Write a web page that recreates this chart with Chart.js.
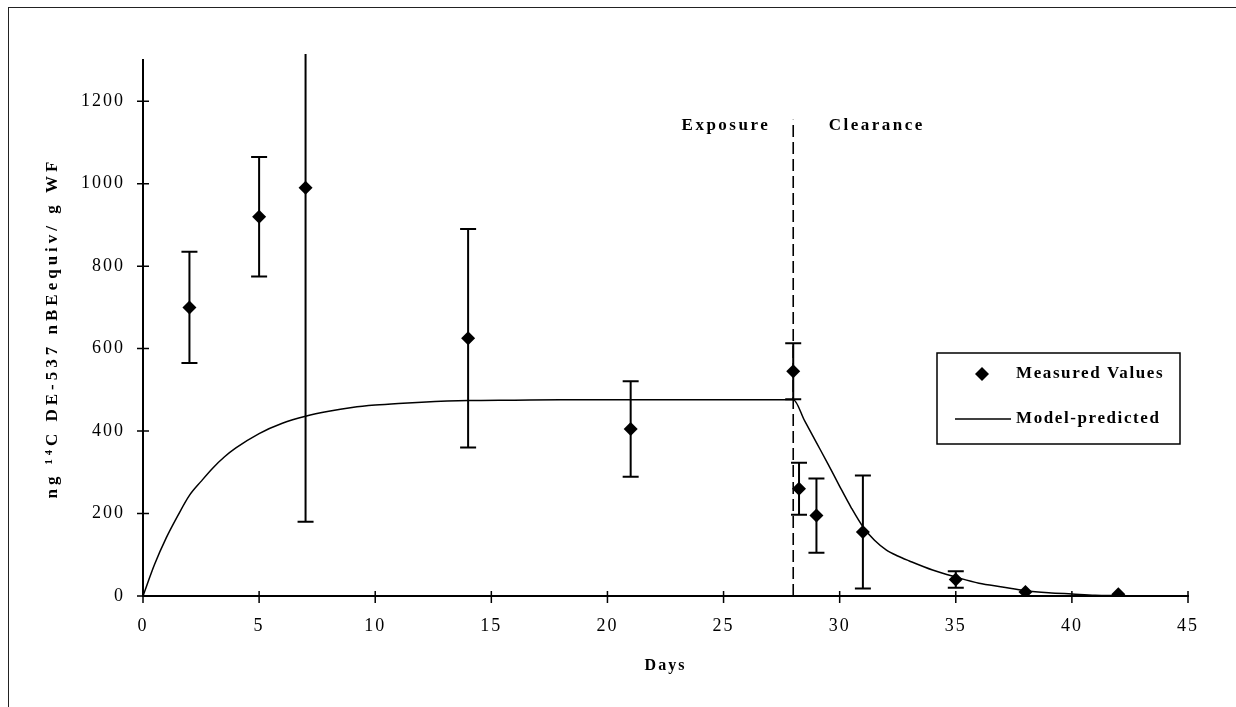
<!DOCTYPE html>
<html>
<head>
<meta charset="utf-8">
<script src="https://cdn.jsdelivr.net/npm/chart.js@4.4.1/dist/chart.umd.min.js"></script>
<style>
  html, body { margin: 0; padding: 0; background: #fff; }
  #wrap { position: relative; width: 1236px; height: 707px; overflow: hidden; }
  #wrap canvas { position: absolute; left: 0; top: 0; }
  #frame { position: absolute; left: 8px; top: 7px; right: -10px; bottom: -10px;
           border-left: 1.5px solid #222; border-top: 1.5px solid #222; pointer-events: none; }
</style>
</head>
<body>
<div id="wrap">
  <canvas id="chart" width="1236" height="707"></canvas>
  <div id="frame"></div>
</div>
<script>
// Axis ticks
const xTickValues = [0, 5, 10, 15, 20, 25, 30, 35, 40, 45];
const yTickValues = [0, 200, 400, 600, 800, 1000, 1200];

// Axis titles
const xTitle = 'Days';
const yTitle = 'ng \u00B9\u2074C DE-537 nBEequiv/ g WF';

// Measured tissue concentrations (mean and +/- error)
const measuredDays   = [2, 5, 7, 14, 21, 28, 28.25, 29, 31, 35, 38, 42];
const measuredValues = [700, 920, 990, 625, 405, 545, 260, 195, 155, 40, 10, 4];
const measuredErrors = [135, 145, 810, 265, 116, 68, 63, 90, 137, 20, 0, 0];

// Model-predicted concentration curve
const modelDays = [0, 0.5, 1, 1.5, 2, 2.5, 3, 3.5, 4, 5, 6, 7, 8, 9, 10, 11, 12, 14, 16, 18, 20, 22, 24, 26, 28,
                   28.5, 29, 29.5, 30, 30.5, 31, 31.5, 32, 32.5, 33, 34, 35, 36, 37, 38, 39, 40, 41, 42];
const modelValues = [0, 77, 141, 195, 244, 278, 310, 337, 359, 394, 419, 436, 448, 457, 463, 467, 470, 474, 475, 476, 476, 476, 476, 476, 476,
                     424, 372, 320, 266, 214, 168, 135, 112, 97, 85, 63, 46, 31, 22, 13, 8, 5, 2, 1];

// Exposure / clearance phases
const phaseBoundaryDay = 28;
const phaseLineTop = 1155;
const phaseLabels = ['Exposure', 'Clearance'];
const phaseLabelDays = [25.1, 31.6];
const phaseLabelLevel = 1141;

const SERIF = "'Liberation Serif', 'Times New Roman', serif";

const letterSpacing = {
  id: 'letterSpacing',
  beforeLayout(chart) { chart.ctx.letterSpacing = '2px'; },
  beforeDraw(chart) { chart.ctx.letterSpacing = '2px'; }
};

const yAxisTitle = {
  id: 'yAxisTitle',
  afterDraw(chart) {
    const { ctx, chartArea } = chart;
    ctx.save();
    ctx.translate(53, (chartArea.top + chartArea.bottom) / 2);
    ctx.rotate(-Math.PI / 2);
    ctx.fillStyle = '#000';
    ctx.font = 'bold 17px ' + SERIF;
    ctx.letterSpacing = '4px';
    ctx.textAlign = 'center';
    ctx.textBaseline = 'middle';
    ctx.fillText(yTitle, 0, 0);
    ctx.restore();
  }
};

const phaseMarks = {
  id: 'phaseMarks',
  beforeDatasetsDraw(chart) {
    const { ctx, scales: { x, y } } = chart;
    const px = x.getPixelForValue(phaseBoundaryDay);
    ctx.save();
    ctx.strokeStyle = '#000';
    ctx.lineWidth = 1.6;
    ctx.setLineDash([12, 5]);
    ctx.beginPath();
    ctx.moveTo(px, y.getPixelForValue(0));
    ctx.lineTo(px, y.getPixelForValue(phaseLineTop));
    ctx.stroke();
    ctx.setLineDash([]);
    ctx.fillStyle = '#000';
    ctx.font = 'bold 17px ' + SERIF;
    ctx.letterSpacing = '2.5px';
    ctx.textAlign = 'center';
    ctx.textBaseline = 'middle';
    phaseLabels.forEach((t, i) => {
      ctx.fillText(t, x.getPixelForValue(phaseLabelDays[i]), y.getPixelForValue(phaseLabelLevel));
    });
    ctx.restore();
  }
};

const errorBars = {
  id: 'errorBars',
  beforeDatasetsDraw(chart) {
    const { ctx, chartArea, scales: { x, y } } = chart;
    ctx.save();
    ctx.strokeStyle = '#000';
    ctx.lineWidth = 2;
    measuredDays.forEach((d, i) => {
      const e = measuredErrors[i];
      if (!e) return;
      const hi = measuredValues[i] + e;
      const lo = measuredValues[i] - e;
      const px = x.getPixelForValue(d);
      const top = Math.max(y.getPixelForValue(hi), chartArea.top - 6);
      const bot = y.getPixelForValue(Math.max(lo, 0));
      ctx.beginPath();
      ctx.moveTo(px, top);
      ctx.lineTo(px, bot);
      if (hi <= y.max) { ctx.moveTo(px - 8, top); ctx.lineTo(px + 8, top); }
      if (lo >= 0) { ctx.moveTo(px - 8, bot); ctx.lineTo(px + 8, bot); }
      ctx.stroke();
    });
    ctx.restore();
  }
};

const crossTicks = {
  id: 'crossTicks',
  afterDraw(chart) {
    const { ctx, scales: { x, y } } = chart;
    const x0 = x.getPixelForValue(0);
    const y0 = y.getPixelForValue(0);
    ctx.save();
    ctx.strokeStyle = '#000';
    ctx.lineWidth = 1.5;
    ctx.beginPath();
    yTickValues.forEach(v => {
      const py = y.getPixelForValue(v);
      ctx.moveTo(x0 - 6, py); ctx.lineTo(x0 + 6, py);
    });
    xTickValues.forEach(v => {
      const px = x.getPixelForValue(v);
      ctx.moveTo(px, y0 - 5); ctx.lineTo(px, y0 + 7);
    });
    ctx.stroke();
    ctx.restore();
  }
};

const boxLegend = {
  id: 'boxLegend',
  afterDraw(chart) {
    const { ctx } = chart;
    const ds = chart.data.datasets;
    const left = 937, top = 353, w = 243, h = 91;
    ctx.save();
    ctx.fillStyle = '#fff';
    ctx.fillRect(left, top, w, h);
    ctx.strokeStyle = '#000';
    ctx.lineWidth = 1.5;
    ctx.strokeRect(left, top, w, h);
    // diamond marker
    const mx = 982, my = 374, r = 7;
    ctx.fillStyle = '#000';
    ctx.beginPath();
    ctx.moveTo(mx, my - r); ctx.lineTo(mx + r, my); ctx.lineTo(mx, my + r); ctx.lineTo(mx - r, my);
    ctx.closePath();
    ctx.fill();
    // line sample
    ctx.lineWidth = 1.5;
    ctx.beginPath();
    ctx.moveTo(955, 419); ctx.lineTo(1011, 419);
    ctx.stroke();
    ctx.font = 'bold 17px ' + SERIF;
    ctx.letterSpacing = '1.6px';
    ctx.textAlign = 'left';
    ctx.textBaseline = 'middle';
    ctx.fillText(ds[0].label, 1016, my);
    ctx.fillText(ds[1].label, 1016, 419);
    ctx.restore();
  }
};

new Chart(document.getElementById('chart'), {
  type: 'scatter',
  data: {
    datasets: [
      {
        label: 'Measured Values',
        data: measuredDays.map((d, i) => ({ x: d, y: measuredValues[i] })),
        pointStyle: 'rectRot',
        pointRadius: 7,
        pointHoverRadius: 7,
        backgroundColor: '#000',
        borderColor: '#000',
        borderWidth: 0,
        showLine: false
      },
      {
        label: 'Model-predicted',
        type: 'line',
        data: modelDays.map((d, i) => ({ x: d, y: modelValues[i] })),
        borderColor: '#000',
        borderWidth: 1.5,
        pointRadius: 0,
        fill: false,
        cubicInterpolationMode: 'monotone'
      }
    ]
  },
  options: {
    responsive: false,
    animation: false,
    devicePixelRatio: 1,
    layout: { padding: { top: 60, right: 48, left: 0, bottom: 0 } },
    plugins: {
      legend: { display: false },
      tooltip: { enabled: false }
    },
    scales: {
      x: {
        type: 'linear',
        min: 0, max: 45,
        afterBuildTicks(scale) { scale.ticks = xTickValues.map(v => ({ value: v })); },
        afterFit(scale) { scale.height = 111; },
        grid: { display: false, drawTicks: false, tickLength: 0 },
        border: { display: true, color: '#000', width: 2 },
        ticks: { color: '#000', padding: 19, font: { family: SERIF, size: 18 },
                 callback: v => String(v) },
        title: { display: true, text: xTitle, color: '#000', padding: { top: 0, bottom: 32 },
                 font: { family: SERIF, size: 16, weight: 'bold' } }
      },
      y: {
        type: 'linear',
        min: 0, max: 1300,
        afterBuildTicks(scale) { scale.ticks = yTickValues.map(v => ({ value: v })); },
        afterFit(scale) { scale.width = 143; },
        grid: { display: false, drawTicks: false, tickLength: 0 },
        border: { display: true, color: '#000', width: 2 },
        ticks: { color: '#000', padding: 18, font: { family: SERIF, size: 18 },
                 callback: v => String(v) },
        title: { display: false }
      }
    }
  },
  plugins: [letterSpacing, phaseMarks, errorBars, crossTicks, boxLegend, yAxisTitle]
});
</script>
</body>
</html>
